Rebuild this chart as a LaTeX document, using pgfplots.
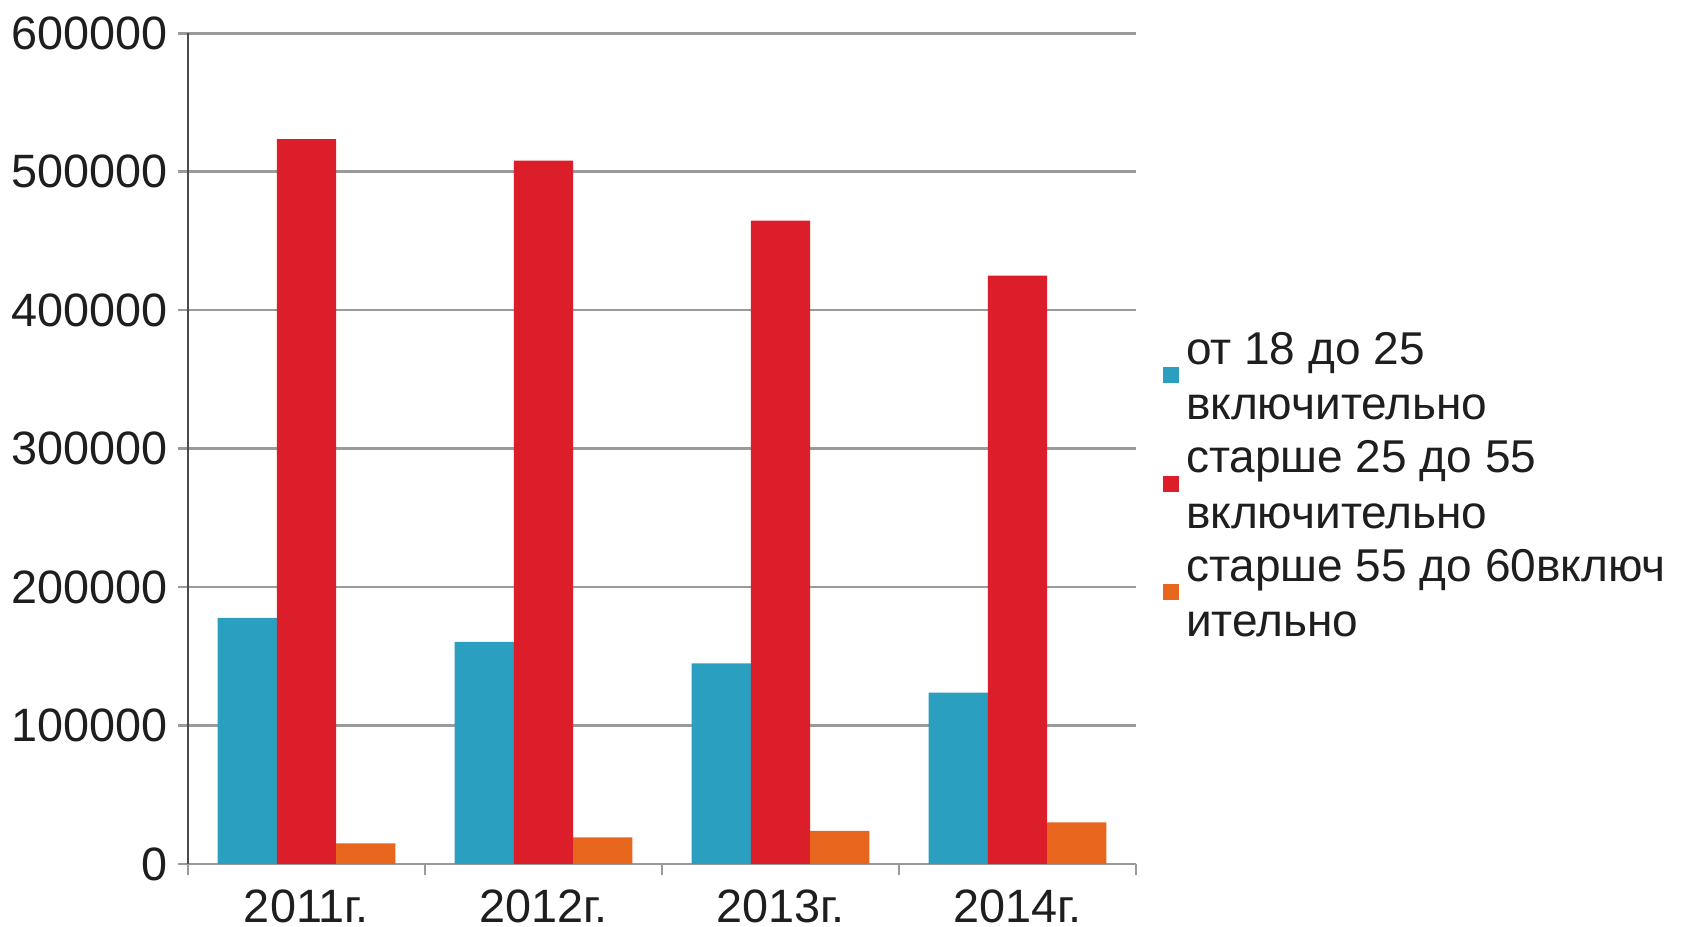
\documentclass[border=0pt]{standalone}
\usepackage{pgfplots}
\pgfplotsset{compat=1.18}
\usepackage{fontspec}
\setmainfont{Liberation Sans}
\definecolor{cteal}{HTML}{2A9FBF}
\definecolor{cred}{HTML}{DC1E2A}
\definecolor{corange}{HTML}{E8651E}
\definecolor{cgrid}{HTML}{9A9A9A}
\definecolor{ctext}{HTML}{1E1E1E}
\begin{document}
\begin{tikzpicture}
\useasboundingbox (-47pt,-15.75pt) rectangle (376pt,216pt);
\begin{axis}[
  at={(0,0)}, anchor=south west,
  scale only axis,
  width=237pt, height=207.7pt,
  xmin=0.5, xmax=4.5,
  ymin=0, ymax=600000,
  ybar=0pt, bar width=0.25,
  xtick={1,2,3,4},
  xticklabels={2011г., 2012г., 2013г., 2014г.},
  minor xtick={0.5,1.5,2.5,3.5,4.5},
  ytick={0,100000,200000,300000,400000,500000,600000},
  scaled y ticks=false,
  /pgf/number format/fixed,
  /pgf/number format/1000 sep={},
  /pgf/number format/assume math mode=true,
  tick align=outside,
  major tick length=2.5pt,
  minor tick length=2.8pt,
  major x tick style={draw=none},
  minor x tick style={draw=cgrid, line width=0.6pt},
  major y tick style={draw=cgrid, line width=0.67pt},
  axis x line*=bottom, axis y line*=left,
  axis line style={-},
  x axis line style={draw=cgrid, line width=0.67pt},
  y axis line style={draw=black!70, line width=0.4pt},
  ymajorgrids,
  major grid style={draw=cgrid, line width=0.67pt},
  tick label style={font=\fontsize{11.7}{13.9}\selectfont, text=ctext},
  yticklabel style={inner sep=2.5pt},
  xticklabel style={inner sep=3.8pt},
  legend style={at={(axis description cs:1,0.4575)}, anchor=west,
    xshift=6.75pt, draw=none, fill=none, inner sep=0pt, outer sep=0pt,
    font=\fontsize{11.5}{13.9}\selectfont, text=ctext,
    cells={anchor=west, align=left},
    nodes={inner sep=0pt},
    column sep=1.75pt, row sep=2pt},
  legend image code/.code={\fill[#1] (0pt,-2pt) rectangle (4pt,2pt);},
]
\addplot[fill=cteal, draw=none] coordinates {(1,177700) (2,160400) (3,144800) (4,123800)};
\addplot[fill=cred, draw=none] coordinates {(1,523500) (2,507900) (3,464700) (4,425000)};
\addplot[fill=corange, draw=none] coordinates {(1,14900) (2,19200) (3,24000) (4,30000)};
\legend{\strut от 18 до 25\\\strut включительно,
        \strut старше 25 до 55\\\strut включительно,
        \strut старше 55 до 60включ\\\strut ительно}
\end{axis}
\end{tikzpicture}
\end{document}
